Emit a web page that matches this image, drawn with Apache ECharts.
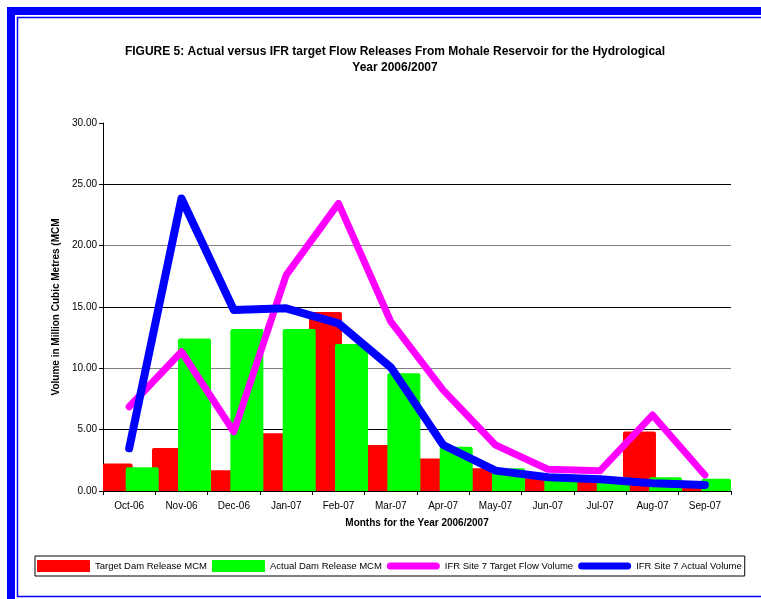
<!DOCTYPE html>
<html>
<head>
<meta charset="utf-8">
<script src="https://cdn.jsdelivr.net/npm/echarts@6/dist/echarts.min.js"></script>
<style>
  html, body { margin: 0; padding: 0; background: #fff; }
  #main { width: 761px; height: 599px; }
</style>
</head>
<body>
<div id="main"></div>
<script>
const months = ['Oct-06', 'Nov-06', 'Dec-06', 'Jan-07', 'Feb-07', 'Mar-07', 'Apr-07', 'May-07', 'Jun-07', 'Jul-07', 'Aug-07', 'Sep-07']
const targetDam = [2.25, 3.5, 1.7, 4.7, 14.6, 3.75, 2.65, 1.85, 1.05, 0.9, 4.85, 0.45]
const actualDam = [1.93, 12.44, 13.2, 13.2, 11.98, 9.6, 3.6, 1.85, 1.15, 1.12, 1.12, 1.0]
const ifrTarget = [6.87, 11.35, 4.83, 17.6, 23.45, 13.8, 8.23, 3.75, 1.77, 1.66, 6.19, 1.3]
const ifrActual = [3.48, 23.85, 14.75, 14.89, 13.67, 10.08, 3.75, 1.66, 1.12, 0.95, 0.63, 0.49]

const font = 'Liberation Sans, Arial, sans-serif'
// pill shaped legend mark for the two lines
const pill = 'path://M4,0H49A3.5,3.5,0,0,1,49,7H4A3.5,3.5,0,0,1,4,0Z'

const chart = echarts.init(document.getElementById('main'))

const option = {
  animation: false,
  textStyle: { fontFamily: font },
  title: {
    text: 'FIGURE 5: Actual versus IFR target Flow Releases From Mohale Reservoir for the Hydrological\nYear 2006/2007',
    left: 390,
    top: 39,
    textAlign: 'center',
    textStyle: { fontFamily: font, fontSize: 12, fontWeight: 'bold', color: '#000', lineHeight: 16 }
  },
  graphic: [
    // blue frame round the picture
    { type: 'rect', shape: { x: 11, y: 11, width: 800, height: 640 }, style: { fill: 'none', stroke: '#0000ff', lineWidth: 8 }, silent: true },
    { type: 'rect', shape: { x: 17.5, y: 17.5, width: 780, height: 579 }, style: { fill: 'none', stroke: '#0000ff', lineWidth: 1.5 }, silent: true }
  ],
  legend: {
    left: 35,
    top: 556,
    padding: [4, 3, 4, 2],
    itemGap: 5,
    itemWidth: 53,
    itemHeight: 12,
    symbolKeepAspect: true,
    borderColor: '#000',
    borderWidth: 1,
    textStyle: { fontFamily: font, fontSize: 9.5, color: '#000' },
    data: [
      { name: 'Target Dam Release MCM', icon: 'rect' },
      { name: 'Actual Dam Release MCM', icon: 'rect' },
      { name: 'IFR Site 7 Target Flow Volume', icon: pill },
      { name: 'IFR Site 7 Actual Volume', icon: pill }
    ]
  },
  grid: { left: 103, right: 30, top: 123, bottom: 108 },
  xAxis: {
    type: 'category',
    data: months,
    name: 'Months for the Year 2006/2007',
    nameLocation: 'middle',
    nameGap: 27,
    nameTextStyle: { fontFamily: font, fontSize: 10, fontWeight: 'bold', color: '#000' },
    axisLine: { lineStyle: { color: '#000', width: 1 } },
    axisTick: { show: true, length: 4, lineStyle: { color: '#000' } },
    axisLabel: { color: '#000', fontSize: 10, margin: 10 }
  },
  yAxis: {
    type: 'value',
    min: 0,
    max: 30,
    interval: 5,
    name: 'Volume in Million Cubic Metres (MCM',
    nameLocation: 'middle',
    nameGap: 36,
    nameTextStyle: { fontFamily: font, fontSize: 10, fontWeight: 'bold', color: '#000' },
    axisLine: { show: true, lineStyle: { color: '#000', width: 1 } },
    axisTick: { show: true, length: 4, lineStyle: { color: '#000' } },
    axisLabel: { color: '#000', fontSize: 10, margin: 6, formatter: v => v.toFixed(2) },
    splitLine: {
      show: true,
      showMinLine: false,
      showMaxLine: false,
      lineStyle: { color: ['#000', '#808080'], width: 1 }
    }
  },
  series: [
    {
      name: 'Target Dam Release MCM',
      type: 'bar',
      data: targetDam,
      barWidth: 33,
      barGap: '-21%',
      itemStyle: { color: '#ff0000', borderRadius: [2, 2, 0, 0] }
    },
    {
      name: 'Actual Dam Release MCM',
      type: 'bar',
      data: actualDam,
      barWidth: 33,
      barGap: '-21%',
      itemStyle: { color: '#00ff00', borderRadius: [2, 2, 0, 0] }
    },
    {
      name: 'IFR Site 7 Target Flow Volume',
      type: 'line',
      data: ifrTarget,
      symbol: 'none',
      itemStyle: { color: '#ff00ff' },
      lineStyle: { color: '#ff00ff', width: 7, cap: 'round', join: 'round' }
    },
    {
      name: 'IFR Site 7 Actual Volume',
      type: 'line',
      data: ifrActual,
      symbol: 'none',
      itemStyle: { color: '#0000ff' },
      lineStyle: { color: '#0000ff', width: 8, cap: 'round', join: 'round' }
    }
  ]
}

chart.setOption(option)
</script>
</body>
</html>
